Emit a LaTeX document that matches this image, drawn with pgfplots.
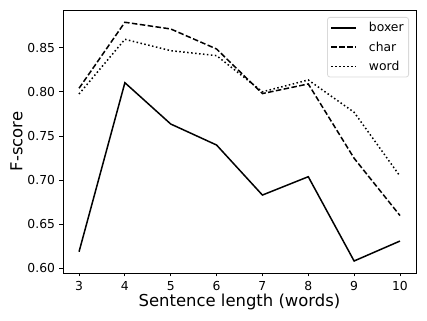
\documentclass[border=0pt]{standalone}
\usepackage{pgfplots}
\pgfplotsset{compat=1.18}
\usepackage{fontspec}
\setmainfont{DejaVu Sans}
\begin{document}
\begin{tikzpicture}
\path[use as bounding box] (-63bp,-48bp) rectangle (364bp,273bp);
\begin{axis}[
  at={(0,0)}, anchor=south west,
  scale only axis,
  width=353bp, height=263bp,
  xmin=2.65, xmax=10.35,
  ymin=0.5947, ymax=0.8927,
  xtick={3,4,5,6,7,8,9,10},
  ytick={0.60,0.65,0.70,0.75,0.80,0.85},
  yticklabel style={/pgf/number format/fixed, /pgf/number format/fixed zerofill, /pgf/number format/precision=2, xshift=-1bp},
  /pgf/number format/assume math mode=true,
  tick align=outside,
  tick pos=left,
  major tick length=3.5bp,
  tick style={black, line width=0.8bp},
  ticklabel style={font=\fontsize{12.4}{14}\selectfont},
  xticklabel style={yshift=-1bp},
  xlabel={Sentence length (words)},
  ylabel={F-score},
  label style={font=\fontsize{16.5}{18}\selectfont},
  xlabel style={yshift=3bp},
  ylabel style={yshift=-2bp},
  axis line style={line width=0.8bp},
  legend cell align=left,
  legend style={font=\fontsize{12.4}{14}\selectfont, draw=black!15, line width=0.8bp, rounded corners=2.5pt, inner xsep=3bp, inner ysep=3bp, at={(1,1)}, xshift=-7bp, yshift=-7bp, anchor=north east, row sep=4.5bp,
    /tikz/every odd column/.append style={column sep=10bp}},
  legend image code/.code={\draw[#1] (0bp,0bp) -- (25bp,0bp);},
]
\addplot[black, line width=1.5bp] coordinates {(3,0.6188) (4,0.8103) (5,0.7635) (6,0.7397) (7,0.6830) (8,0.7038) (9,0.6083) (10,0.6309)};
\addlegendentry{boxer}
\addplot[black, line width=1.5bp, dash pattern=on 5.55bp off 2.4bp] coordinates {(3,0.8040) (4,0.8788) (5,0.8712) (6,0.8485) (7,0.7980) (8,0.8089) (9,0.7247) (10,0.6598)};
\addlegendentry{char}
\addplot[black, line width=1.5bp, dash pattern=on 1.5bp off 2.475bp] coordinates {(3,0.7975) (4,0.8595) (5,0.8466) (6,0.8410) (7,0.8000) (8,0.8134) (9,0.7768) (10,0.7045)};
\addlegendentry{word}
\end{axis}
\end{tikzpicture}
\end{document}
